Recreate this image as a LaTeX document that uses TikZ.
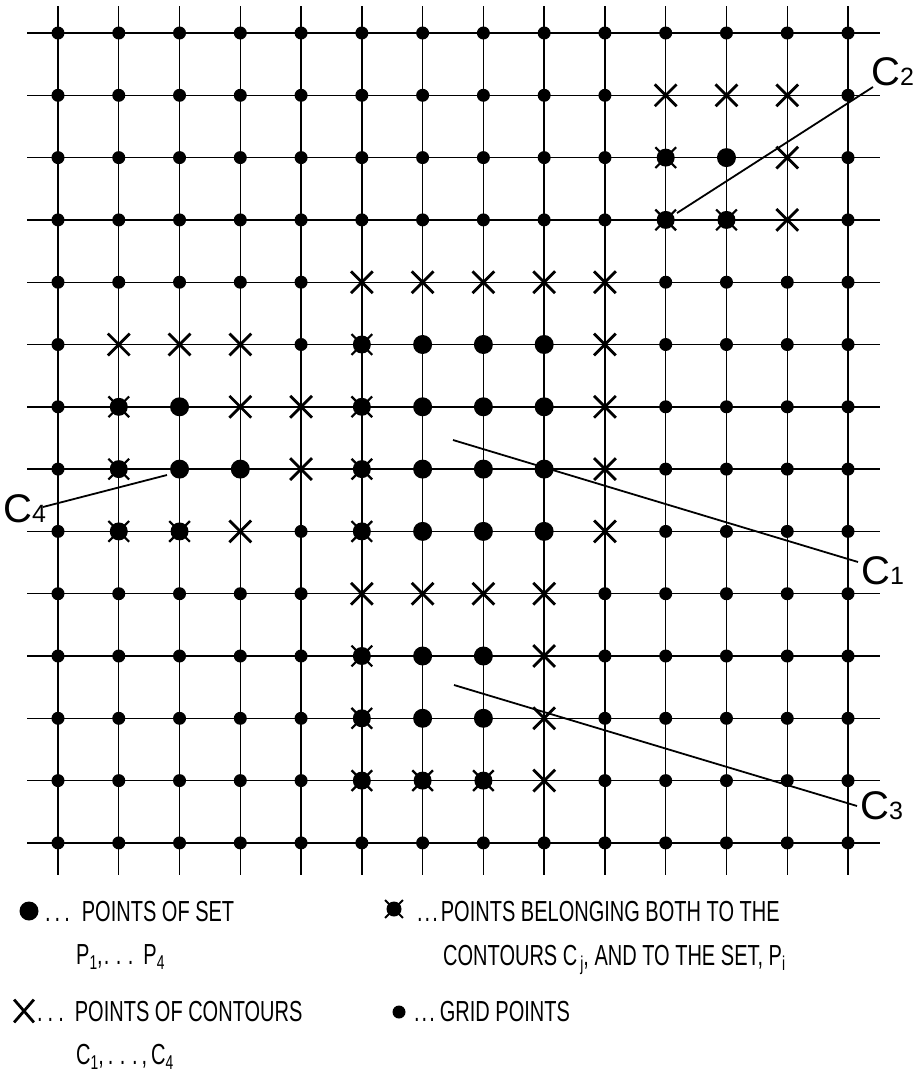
\documentclass[tikz,border=0pt]{standalone}
\usepackage{fontspec}
\usetikzlibrary{shapes.misc}
\newfontfamily\legfont[FakeStretch=0.69]{Liberation Sans}
\newfontfamily\labfont{Liberation Sans}
\newcommand\lsub[1]{\raisebox{-5pt}{\fontsize{20}{20}\selectfont #1}}
\newcommand\cdig[1]{{\fontsize{25}{25}\selectfont #1}}
\tikzset{
  gridline/.style={line width=1.4pt},
  leader/.style={line width=1.8pt},
  griddot/.style={circle,fill=black,inner sep=0pt,minimum size=13pt},
  setdot/.style={circle,fill=black,inner sep=0pt,minimum size=19pt},
  bothcore/.style={circle,fill=black,inner sep=0pt,minimum size=18pt},
  bothspike/.style={cross out,draw=black,line width=2.2pt,inner sep=0pt,minimum size=18.5pt},
  xmark/.style={cross out,draw=black,line width=2.8pt,inner sep=0pt,minimum size=19pt},
  clabel/.style={inner sep=0pt,anchor=base west,font=\labfont\fontsize{40}{40}\selectfont},
  legtext/.style={inner sep=0pt,anchor=base west,font=\legfont\fontsize{29}{30}\selectfont}
}
\begin{document}
\begin{tikzpicture}[x=1pt,y=-1pt]
\useasboundingbox (0,0) rectangle (917,1072);
\def\setpts{11/2,6/5,7/5,8/5,2/6,6/6,7/6,8/6,2/7,3/7,6/7,7/7,8/7,6/8,7/8,8/8,6/10,7/10,6/11,7/11}
\def\bothpts{10/2,10/3,11/3,5/5,1/6,5/6,1/7,5/7,1/8,2/8,5/8,5/10,5/11,5/12,6/12,7/12}
\def\xpts{10/1,11/1,12/1,12/2,12/3,5/4,6/4,7/4,8/4,9/4,1/5,2/5,3/5,9/5,3/6,4/6,9/6,4/7,9/7,3/8,9/8,5/9,6/9,7/9,8/9,8/10,8/11,8/12}
% grid lines
\foreach \i in {0,...,13}{
  \draw[gridline] ({58+60.77*\i},6) -- ({58+60.77*\i},875);
  \draw[gridline] (27,{33+62.3*\i}) -- (880,{33+62.3*\i});
}
% mark contour points
\foreach \p in \xpts {\expandafter\xdef\csname xm@\p\endcsname{}}
% grid points
\foreach \i in {0,...,13}{
  \foreach \j in {0,...,13}{
    \ifcsname xm@\i/\j\endcsname\else
      \node[griddot] (g\i-\j) at ({58+60.77*\i},{33+62.3*\j}) {};
    \fi
  }
}
% contour points
\foreach \i/\j in \xpts {
  \node[xmark] (x\i-\j) at ({58+60.77*\i},{33+62.3*\j}) {};
}
% set points
\foreach \i/\j in \setpts {
  \node[setdot] (p\i-\j) at ({58+60.77*\i},{33+62.3*\j}) {};
}
% both
\foreach \i/\j in \bothpts {
  \node[bothspike] (bs\i-\j) at ({58+60.77*\i},{33+62.3*\j}) {};
  \node[bothcore] (b\i-\j) at ({58+60.77*\i},{33+62.3*\j}) {};
}
% leaders and labels
\coordinate (c2in) at (677,213); \coordinate (c2out) at (873,87);
\coordinate (c1in) at (453,440); \coordinate (c1out) at (858,562);
\coordinate (c3in) at (454,685); \coordinate (c3out) at (857,806);
\coordinate (c4in) at (167,475); \coordinate (c4out) at (43,507);
\draw[leader] (c2in) -- (c2out);
\draw[leader] (c1in) -- (c1out);
\draw[leader] (c3in) -- (c3out);
\draw[leader] (c4in) -- (c4out);
\node[clabel] (lC2) at (871,85) {C\cdig{2}};
\node[clabel] (lC1) at (861,584) {C\cdig{1}};
\node[clabel] (lC3) at (860,819) {C\cdig{3}};
\node[clabel] (lC4) at (3,522) {C\cdig{4}};
% legend
\node[setdot] (ls) at (29,911) {};
\node[legtext] (lt1) at (45,921) {.\kern4pt.\kern4pt.\kern12pt POINTS OF SET};
\node[legtext] (lt2) at (76,964) {P\lsub{1},\kern1pt.\kern6.5pt.\kern6.5pt.\kern10pt P\lsub{4}};
\node[xmark,minimum width=17pt,minimum height=20pt] (lx) at (24,1011) {};
\node[legtext] (lt3) at (37,1021) {.\kern5pt.\kern5pt.\kern11pt POINTS OF CONTOURS};
\node[legtext] (lt4) at (76,1064) {C\lsub{1},\kern4pt.\kern6.5pt.\kern6.5pt.\kern4pt,\kern4pt C\lsub{4}};
\node[bothspike,minimum size=16pt,line width=1.8pt] (lbs) at (394,909) {};
\node[bothcore,minimum size=15pt] (lb) at (394,909) {};
\node[legtext] (lt5) at (417,921) {.\kern2pt.\kern2pt.\kern3pt POINTS BELONGING BOTH TO THE};
\node[legtext] (lt6) at (443,965) {CONTOURS C\kern3pt\lsub{j}, AND TO THE SET, P\lsub{i}};
\node[griddot] (lg) at (399,1012) {};
\node[legtext] (lt7) at (414,1021) {.\kern2pt.\kern2pt.\kern5pt GRID POINTS};
\end{tikzpicture}
\end{document}
